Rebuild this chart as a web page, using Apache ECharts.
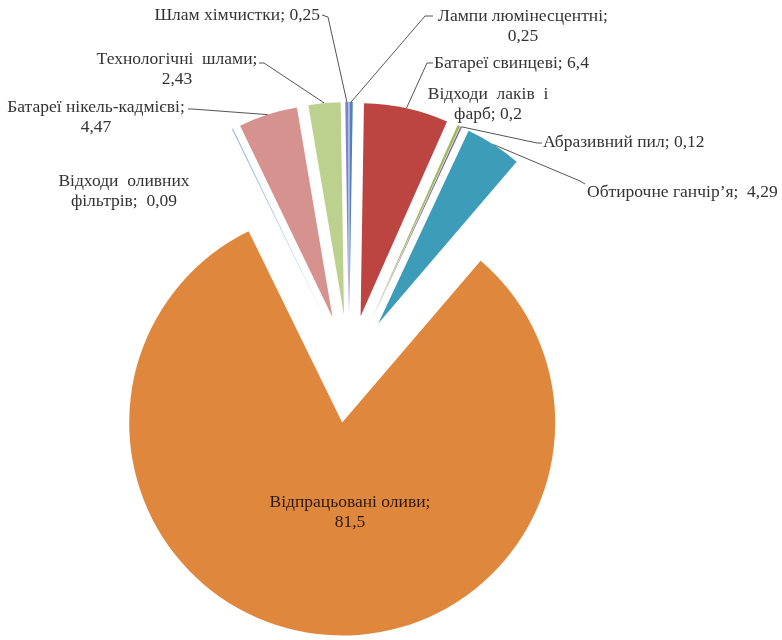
<!DOCTYPE html>
<html>
<head>
<meta charset="utf-8">
<script src="https://cdn.jsdelivr.net/npm/echarts@6/dist/echarts.min.js"></script>
<style>html,body{margin:0;padding:0;background:#fff;}#c{width:782px;height:640px;}</style>
</head>
<body>
<div id="c"></div>
<script>
// Data (clockwise from 12 o'clock, as in the reference)
var categories = [
  'Лампи люмінесцентні',
  'Батареї свинцеві',
  'Відходи  лаків  і фарб',
  'Абразивний пил',
  'Обтирочне ганчір’я',
  'Відпрацьовані оливи',
  'Відходи  оливних фільтрів',
  'Батареї нікель-кадмієві',
  'Технологічні  шлами',
  'Шлам хімчистки'
];
var values = [0.25, 6.4, 0.2, 0.12, 4.29, 81.5, 0.09, 4.47, 2.43, 0.25];
var valueLabels = ['0,25', '6,4', '0,2', '0,12', '4,29', '81,5', '0,09', '4,47', '2,43', '0,25'];
var colors = ['#4F81BD', '#BC4441', '#9BBB59', '#8064A2', '#3D9DB8', '#DF873C', '#9DB9E0', '#D6928F', '#BDD18F', '#7B86C8'];

// Label text layout (line breaks as in the reference)
var labelTexts = [
  'Лампи люмінесцентні;\n0,25',
  'Батареї свинцеві; 6,4',
  'Відходи  лаків  і\nфарб; 0,2',
  'Абразивний пил; 0,12',
  'Обтирочне ганчір’я;  4,29',
  'Відпрацьовані оливи;\n81,5',
  'Відходи  оливних\nфільтрів;  0,09',
  'Батареї нікель-кадмієві;\n4,47',
  'Технологічні  шлами;\n2,43',
  'Шлам хімчистки; 0,25'
];

// Label placement (style only)
var labelPos = [
  {x: 523, y: 26, align: 'center', line: [[425, 16], [433, 16]]},
  {x: 434, y: 63, align: 'left', line: [[427, 63], [433, 63]]},
  {x: 488, y: 104, align: 'center', line: null},
  {x: 543, y: 142, align: 'left', line: [[537, 143], [542, 143]]},
  {x: 587, y: 192, align: 'left', line: [[580, 181], [585, 184]]},
  {x: 350, y: 512, align: 'center', line: null},
  {x: 124, y: 191, align: 'center', line: null},
  {x: 96, y: 117, align: 'center', line: [[192, 109], [188, 109]]},
  {x: 177, y: 69, align: 'center', line: [[264, 63], [259, 63]]},
  {x: 320, y: 15, align: 'right', line: [[328, 17], [322, 15]]}
];

var CENTER = [349, 369];
var RADIUS = 213;
var EXPLODE = 54;

var sliceData = categories.map(function (name, i) {
  return {name: name, value: values[i], selected: true, itemStyle: {color: colors[i]}};
});
var labelData = categories.map(function (name, i) {
  var item = {
    name: name,
    value: values[i],
    label: {formatter: labelTexts[i], color: i === 5 ? '#2b1a0c' : '#333333'}
  };
  if (!labelPos[i].line) item.labelLine = {show: false};
  return item;
});

var chart = echarts.init(document.getElementById('c'), null, {renderer: 'canvas'});
chart.setOption({
  backgroundColor: '#ffffff',
  animation: false,
  series: [{
    // exploded slices
    type: 'pie',
    center: CENTER,
    radius: RADIUS,
    startAngle: 90,
    clockwise: true,
    selectedMode: 'multiple',
    selectedOffset: EXPLODE,
    minAngle: 0,
    itemStyle: {borderWidth: 0, borderRadius: 0},
    select: {itemStyle: {borderWidth: 0}},
    emphasis: {disabled: true},
    silent: true,
    label: {show: false},
    labelLine: {show: false},
    data: sliceData
  }, {
    // labels, anchored at the exploded outer edge
    type: 'pie',
    center: CENTER,
    radius: RADIUS + EXPLODE,
    startAngle: 90,
    clockwise: true,
    silent: true,
    avoidLabelOverlap: false,
    minAngle: 0,
    itemStyle: {color: 'rgba(0,0,0,0)', borderWidth: 0},
    emphasis: {disabled: true},
    label: {
      show: true,
      position: 'outside',
      fontFamily: '"Liberation Serif", "DejaVu Serif", serif',
      fontSize: 17.5,
      lineHeight: 20,
      color: '#333333'
    },
    labelLine: {
      show: true,
      length: 10,
      length2: 10,
      lineStyle: {color: '#555555', width: 1}
    },
    labelLayout: function (params) {
      var p = labelPos[params.dataIndex];
      var out = {x: p.x, y: p.y, align: p.align, verticalAlign: 'middle'};
      if (p.line && params.labelLinePoints) {
        out.labelLinePoints = [params.labelLinePoints[0], p.line[0], p.line[1]];
      }
      return out;
    },
    data: labelData
  }]
});
</script>
</body>
</html>
